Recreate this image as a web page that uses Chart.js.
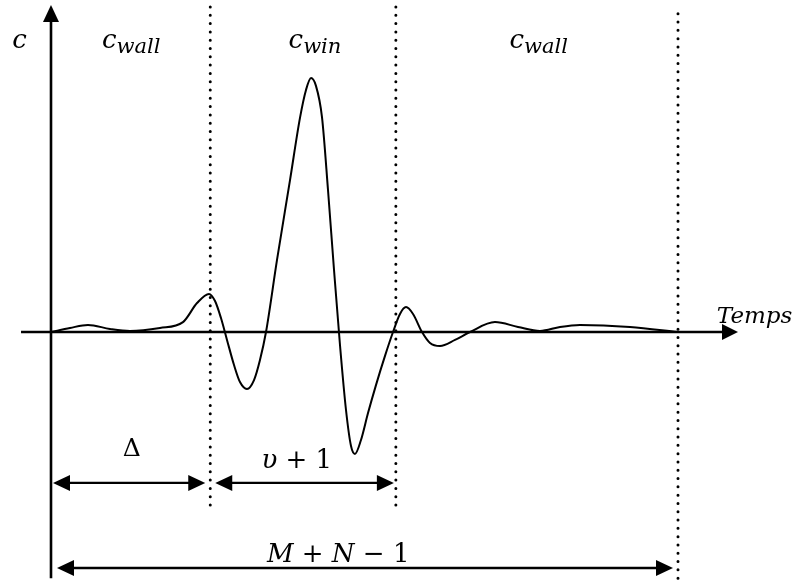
<!DOCTYPE html>
<html>
<head>
<meta charset="utf-8">
<script src="https://cdn.jsdelivr.net/npm/chart.js@4/dist/chart.umd.min.js"></script>
<style>
  html,body{margin:0;padding:0;background:#fff;}
  canvas{display:block;}
</style>
</head>
<body>
<canvas id="c" width="797" height="583"></canvas>
<script>
// ---- data ----
// time axis (arbitrary units, M+N-1 = 100)
const timeVals = [0, 3.03, 5.90, 9.41, 12.60, 17.38, 21.05, 23.29, 25.20, 26.16, 27.11, 28.07, 29.19, 30.14, 31.26,
  32.38, 33.33, 34.29, 36.04, 38.12, 39.71, 40.67, 41.47, 42.26, 43.22, 44.18, 45.14, 46.09, 47.05, 47.85, 48.48,
  49.44, 50.56, 51.83, 53.27, 54.55, 55.66, 56.62, 57.74, 59.17, 60.45, 62.04, 64.43, 66.83,
  70.81, 74.48, 77.99, 81.18, 84.37, 92.34, 100];
// correlation c (normalised, main peak = 1)
const corrVals = [0, 0.016, 0.028, 0.012, 0.004, 0.016, 0.039, 0.114, 0.150, 0.122, 0.055, -0.031, -0.130, -0.197, -0.224,
  -0.189, -0.110, 0, 0.283, 0.598, 0.843, 0.953, 1.0, 0.969, 0.846, 0.559, 0.244, -0.051, -0.307, -0.449, -0.480,
  -0.425, -0.319, -0.209, -0.094, 0, 0.071, 0.098, 0.071, 0, -0.043, -0.055, -0.031, 0,
  0.039, 0.020, 0.004, 0.020, 0.028, 0.020, 0];
// region boundaries: start, end of Δ, end of window (Δ+υ+1), M+N-1
const boundaries = [0, 25.4, 55, 100];
const regionSubscripts = ['wall', 'win', 'wall'];
const regionLabelX = [12.8, 42.1, 77.8];
const axisLabels = ['c', 'Temps'];

// ---- chart ----
const curve = timeVals.map((t, i) => ({x: t, y: corrVals[i]}));
const dotted = (xv, yBottom) => ({
  data: [{x: xv, y: yBottom}, {x: xv, y: 1.283}],
  borderColor: '#000', borderWidth: 3, borderDash: [0, 8.3], borderCapStyle: 'round',
  pointRadius: 0, tension: 0, clip: false
});

const FONT = '"DejaVu Serif", serif';

function arrowHead(ctx, tx, ty, dx, dy, len, half) {
  const px = -dy, py = dx;
  ctx.beginPath();
  ctx.moveTo(tx, ty);
  ctx.lineTo(tx - dx * len + px * half, ty - dy * len + py * half);
  ctx.lineTo(tx - dx * len - px * half, ty - dy * len - py * half);
  ctx.closePath();
  ctx.fill();
}
function seg(ctx, x1, y1, x2, y2) {
  ctx.beginPath(); ctx.moveTo(x1, y1); ctx.lineTo(x2, y2); ctx.stroke();
}
function dimArrow(ctx, x1, x2, y) {
  ctx.lineWidth = 2.4;
  seg(ctx, x1 + 8, y, x2 - 8, y);
  arrowHead(ctx, x1, y, -1, 0, 17, 8);
  arrowHead(ctx, x2, y, 1, 0, 17, 8);
}
// runs: [{t, it, size, dy}]
function drawRuns(ctx, runs, x, y, align) {
  let w = 0;
  runs.forEach(r => { ctx.font = (r.it ? 'italic ' : '') + r.size + 'px ' + FONT; r.w = ctx.measureText(r.t).width; w += r.w; });
  let cx = align === 'center' ? x - w / 2 : x;
  ctx.textAlign = 'left'; ctx.textBaseline = 'alphabetic';
  runs.forEach(r => {
    ctx.font = (r.it ? 'italic ' : '') + r.size + 'px ' + FONT;
    ctx.fillText(r.t, cx, y + (r.dy || 0));
    cx += r.w;
  });
}

const decor = {
  id: 'decor',
  afterDatasetsDraw(chart) {
    const {ctx, scales: {x, y}} = chart;
    const X = v => x.getPixelForValue(v), Y = v => y.getPixelForValue(v);
    ctx.save();
    ctx.strokeStyle = '#000'; ctx.fillStyle = '#000';
    // axes
    ctx.lineWidth = 2.6;
    seg(ctx, X(0), Y(-0.969), X(0), Y(1.287) + 14);
    arrowHead(ctx, X(0), Y(1.287), 0, -1, 17, 8);
    seg(ctx, X(-4.78), Y(0), X(109.57) - 14, Y(0));
    arrowHead(ctx, X(109.57), Y(0), 1, 0, 16, 8);
    // dimension arrows
    dimArrow(ctx, X(boundaries[0]) + 2, X(boundaries[1]) - 5, Y(-0.594));
    dimArrow(ctx, X(boundaries[1]) + 5, X(boundaries[2]) - 2, Y(-0.594));
    dimArrow(ctx, X(boundaries[0]) + 6, X(boundaries[3]) - 5, Y(-0.929));
    // labels
    drawRuns(ctx, [{t: axisLabels[0], it: true, size: 26}], X(-6.2), Y(1.118), 'left');
    regionSubscripts.forEach((s, i) => {
      drawRuns(ctx, [{t: 'c', it: true, size: 26}, {t: s, it: true, size: 21, dy: 5}], X(regionLabelX[i]), Y(1.118), 'center');
    });
    drawRuns(ctx, [{t: axisLabels[1], it: true, size: 23}], X(106.2), Y(0.035), 'left');
    drawRuns(ctx, [{t: 'Δ', it: false, size: 25}], X(12.9), Y(-0.488), 'center');
    drawRuns(ctx, [{t: 'υ', it: true, size: 26}, {t: ' + 1', it: false, size: 26}], X(39.2), Y(-0.535), 'center');
    drawRuns(ctx, [{t: 'M', it: true, size: 26}, {t: ' + ', it: false, size: 26}, {t: 'N', it: true, size: 26}, {t: ' − 1', it: false, size: 26}], X(45.8), Y(-0.906), 'center');
    ctx.restore();
  }
};

new Chart(document.getElementById('c'), {
  type: 'line',
  data: {
    datasets: [
      {data: curve, borderColor: '#000', borderWidth: 2, pointRadius: 0,
       cubicInterpolationMode: 'monotone', fill: false},
      dotted(boundaries[1], -0.681),
      dotted(boundaries[2], -0.681),
      dotted(boundaries[3], -0.969)
    ]
  },
  options: {
    responsive: false, animation: false, devicePixelRatio: 1,
    layout: {padding: 0},
    plugins: {legend: {display: false}, tooltip: {enabled: false}, title: {display: false}},
    scales: {
      x: {type: 'linear', display: false, min: -8.134, max: 118.98},
      y: {type: 'linear', display: false, min: -0.988, max: 1.307}
    }
  },
  plugins: [decor]
});
</script>
</body>
</html>
